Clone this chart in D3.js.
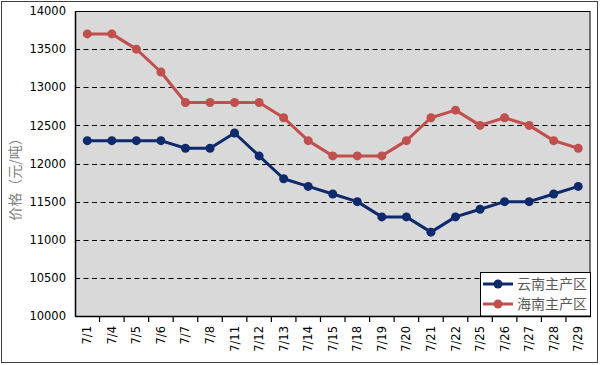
<!DOCTYPE html>
<html><head><meta charset="utf-8">
<script src="https://cdn.jsdelivr.net/npm/d3@7"></script>
<style>body{margin:0;background:#fff}svg{display:block}</style>
</head><body>
<svg id="c" width="600" height="365"></svg>
<script>
const categories = ["7/1","7/4","7/5","7/6","7/7","7/8","7/11","7/12","7/13","7/14","7/15","7/18","7/19","7/20","7/21","7/22","7/25","7/26","7/27","7/28","7/29"];
const yunnan = [12300,12300,12300,12300,12200,12200,12400,12100,11800,11700,11600,11500,11300,11300,11100,11300,11400,11500,11500,11600,11700];
const hainan = [13700,13700,13500,13200,12800,12800,12800,12800,12600,12300,12100,12100,12100,12300,12600,12700,12500,12600,12500,12300,12200];
const yTicks = [10000,10500,11000,11500,12000,12500,13000,13500,14000];
const seriesNames = ["云南主产区","海南主产区"];
const colors = ["#0e2a6c","#c0504d"];

const svg = d3.select("#c");
const L = 75, R = 590.5, T = 11, B = 316;
const font = "'DejaVu Sans', Verdana, sans-serif";

svg.append("rect").attr("x",1.5).attr("y",1.5).attr("width",596).attr("height",361)
  .attr("fill","#fff").attr("stroke","#404040").attr("stroke-width",1);

const x = d3.scaleBand().domain(categories).range([L,R]);
const y = d3.scaleLinear().domain([10000,14000]).range([B,T]);

svg.append("rect").attr("x",L).attr("y",T).attr("width",R-L).attr("height",B-T)
  .attr("fill","#d9d9d9");

// gridlines
svg.append("g").selectAll("line").data(yTicks.filter(v=>v>10000&&v<14000)).join("line")
  .attr("x1",L).attr("x2",R).attr("y1",d=>Math.round(y(d))+0.5).attr("y2",d=>Math.round(y(d))+0.5)
  .attr("stroke","#000").attr("stroke-width",1).attr("stroke-dasharray","5,3.5");

// plot border
svg.append("rect").attr("x",L+0.5).attr("y",T+0.5).attr("width",R-L-1).attr("height",B-T)
  .attr("fill","none").attr("stroke","#000").attr("stroke-width",1);

// y axis
const ya = svg.append("g").attr("transform",`translate(${L},0)`)
  .call(d3.axisLeft(y).tickValues(yTicks).tickSize(0).tickPadding(9).tickFormat(d3.format("d")));
ya.select(".domain").attr("stroke","#000").attr("stroke-width",1.5);
ya.selectAll("text").attr("font-family",font).attr("font-size","11.5px").attr("fill","#000");

// x axis
const xa = svg.append("g").attr("transform",`translate(0,${B})`)
  .call(d3.axisBottom(x).tickSize(0));
xa.select(".domain").attr("stroke","#000").attr("stroke-width",1.5);
xa.selectAll(".tick line").remove();
xa.selectAll(".tick text").attr("font-family",font).attr("font-size","11.5px").attr("fill","#000")
  .attr("transform","rotate(-90)").attr("text-anchor","end").attr("dy","0.35em").attr("y",0).attr("x",-10);
// category boundary ticks
const bounds = categories.slice(1).map(c=>x(c));
svg.append("g").selectAll("line").data(bounds).join("line")
  .attr("x1",d=>d).attr("x2",d=>d).attr("y1",B).attr("y2",B+6)
  .attr("stroke","#000").attr("stroke-width",1.2);

// lines
const line = d3.line().x((d,i)=>x(categories[i])+x.bandwidth()/2).y(d=>y(d));
[yunnan,hainan].forEach((s,k)=>{
  svg.append("path").datum(s).attr("d",line).attr("fill","none")
    .attr("stroke",colors[k]).attr("stroke-width",3).attr("stroke-linejoin","round");
  svg.append("g").selectAll("circle").data(s).join("circle")
    .attr("cx",(d,i)=>x(categories[i])+x.bandwidth()/2).attr("cy",d=>y(d)).attr("r",4.5)
    .attr("fill",colors[k]);
});

// y label
svg.append("text").attr("transform","translate(20,176) rotate(-90)")
  .attr("text-anchor","middle").attr("font-family","'Noto Sans CJK SC', sans-serif")
  .attr("font-size","14px").attr("fill","#808080").text("价格（元/吨）");

// legend
const lg = svg.append("g");
lg.append("rect").attr("x",480.5).attr("y",272.5).attr("width",110).attr("height",43.5)
  .attr("fill","#fff").attr("stroke","#000").attr("stroke-width",1);
seriesNames.forEach((n,k)=>{
  const yy = 284 + k*20;
  lg.append("line").attr("x1",483).attr("x2",513).attr("y1",yy).attr("y2",yy)
    .attr("stroke",colors[k]).attr("stroke-width",3);
  lg.append("circle").attr("cx",498).attr("cy",yy).attr("r",4.5).attr("fill",colors[k]);
  lg.append("text").attr("x",517).attr("y",yy).attr("dy","0.35em")
    .attr("font-family","'Noto Sans CJK SC', sans-serif").attr("font-size","14px")
    .attr("fill","#595959").text(n);
});
</script>
</body></html>
